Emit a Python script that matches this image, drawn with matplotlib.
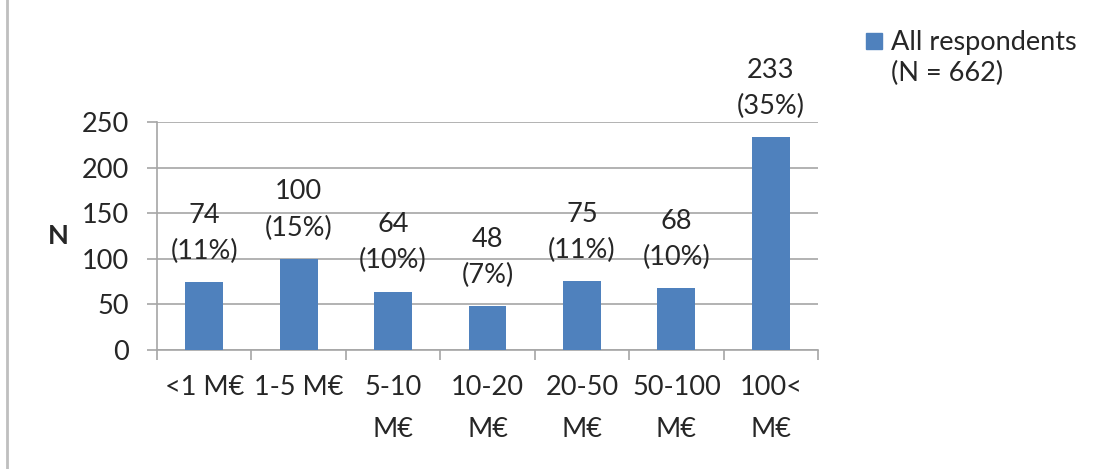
import matplotlib.pyplot as plt
from matplotlib.lines import Line2D
from matplotlib.patches import Rectangle
import numpy as np

plt.rcParams['font.family'] = ['Lato', 'DejaVu Sans']

categories = ["<1 M€", "1-5 M€", "5-10\nM€", "10-20\nM€", "20-50\nM€", "50-100\nM€", "100<\nM€"]
counts = [74, 100, 64, 48, 75, 68, 233]
percents = [11, 15, 10, 7, 11, 10, 35]
series_label = "All respondents\n(N = 662)"

bar_color = "#4F81BD"
grid_color = "#a6a6a6"
text_color = "#262626"
fs = 19.5

fig = plt.figure(figsize=(10.98, 4.69), dpi=100)
ax = fig.add_axes([0.143, 0.254, 0.602, 0.486])

x = np.arange(len(categories))
bars = ax.bar(x, counts, width=0.4, color=bar_color, zorder=3)

for xi, c, p in zip(x, counts, percents):
    ax.annotate(f"{c}\n({p}%)", (xi, c), xytext=(0, 13), textcoords="offset points",
                ha="center", va="bottom", fontsize=fs, color=text_color, linespacing=1.55)

ax.set_xlim(-0.5, len(categories) - 0.5)
ax.set_ylim(0, 250)
ax.set_yticks(range(0, 251, 50))
ax.yaxis.grid(True, color=grid_color, linewidth=1.2, zorder=0)

ax.set_xticks(x)
ax.set_xticklabels(categories, fontsize=fs, color=text_color, linespacing=1.85)
ax.set_xticks(np.arange(-0.5, len(categories), 1), minor=True)
ax.tick_params(axis="x", which="major", length=0, pad=18)
ax.tick_params(axis="x", which="minor", length=7, width=1.2, color=grid_color)
ax.tick_params(axis="y", length=7, width=1.2, color=grid_color, labelsize=fs,
               labelcolor=text_color, pad=13)

for side in ["top", "right"]:
    ax.spines[side].set_visible(False)
for side in ["left", "bottom"]:
    ax.spines[side].set_color(grid_color)
    ax.spines[side].set_linewidth(1.2)

ax.set_ylabel("N", fontsize=fs, fontweight="bold", rotation=0, color=text_color,
              labelpad=17, va="center")

# legend drawn by hand so the square sits on the first line
fig.add_artist(Rectangle((866 / 1098, 1 - 49 / 469), 16 / 1098, 16 / 469,
                         transform=fig.transFigure, color=bar_color))
fig.text(891 / 1098, 1 - 30 / 469, series_label, fontsize=fs, color=text_color,
         va="top", ha="left", linespacing=1.3)

# left border line
fig.add_artist(Line2D([7 / 1098, 7 / 1098], [0, 1], transform=fig.transFigure,
                      color="#bfbfbf", linewidth=2))

fig.savefig("out.png", dpi=100)
